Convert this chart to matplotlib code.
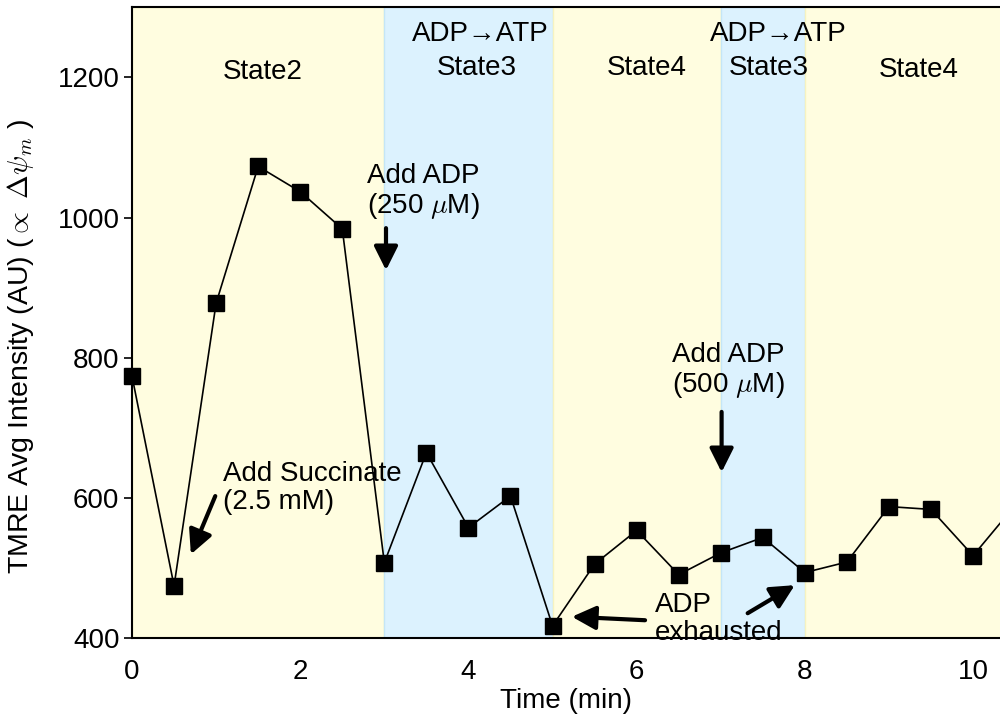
import matplotlib
matplotlib.use('Agg')
import matplotlib.pyplot as plt

plt.rcParams['font.family'] = ['Liberation Sans', 'DejaVu Sans']
plt.rcParams['mathtext.fontset'] = 'cm'

# data
time_min = [0, 0.5, 1, 1.5, 2, 2.5, 3, 3.5, 4, 4.5, 5, 5.5, 6, 6.5, 7, 7.5,
            8, 8.5, 9, 9.5, 10, 10.5]
tmre = [774, 475, 878, 1073, 1037, 984, 508, 665, 558, 603, 418, 506, 554,
        491, 522, 544, 494, 509, 588, 584, 518, 590]

# phases: (start, end, colour kind)
phase_start = [0, 3, 5, 7, 8]
phase_end = [3, 5, 7, 8, 11]
phase_kind = ['rest', 'active', 'rest', 'active', 'rest']

yellow = '#fffde0'
blue = '#dcf2fe'

fig = plt.figure(figsize=(10, 7.19), dpi=100)
ax = fig.add_axes([0.132, 0.112, 0.868, 0.878])

for s, e, k in zip(phase_start, phase_end, phase_kind):
    if k == 'rest':
        ax.axvspan(s, e, facecolor=yellow, edgecolor='#f7f3c0', lw=1, zorder=0)
    else:
        ax.axvspan(s, e, facecolor=blue, edgecolor='#c4e6f7', lw=1, zorder=0)

ax.plot(time_min, tmre, color='black', lw=1.2, marker='s', markersize=11.5,
        markeredgecolor='black', zorder=3, clip_on=False)

ax.set_xlim(0, 10.32)
ax.set_ylim(400, 1300)
ax.set_xticks([0, 2, 4, 6, 8, 10])
ax.set_yticks([400, 600, 800, 1000, 1200])
ax.tick_params(axis='x', length=0, labelsize=20, pad=15)
ax.tick_params(axis='y', length=6, labelsize=20, width=1.2, pad=3)
ax.spines['right'].set_visible(False)
for sp in ['left', 'bottom', 'top']:
    ax.spines[sp].set_linewidth(1.5)

ax.set_xlabel('Time (min)', fontsize=20, labelpad=2)
ax.set_ylabel(r'TMRE Avg Intensity (AU) ($\propto$ $\Delta\psi_m$ )', fontsize=20.5)
ax.yaxis.set_label_coords(-0.111, 0.462)

fs = 20
ls = 1.1
# phase labels
ax.text(1.55, 1207, 'State2', ha='center', va='center', fontsize=fs)
ax.text(4.14, 1262, 'ADP\u2192ATP', ha='center', va='center', fontsize=fs)
ax.text(4.10, 1214, 'State3', ha='center', va='center', fontsize=fs)
ax.text(6.12, 1214, 'State4', ha='center', va='center', fontsize=fs)
ax.text(7.68, 1262, 'ADP\u2192ATP', ha='center', va='center', fontsize=fs)
ax.text(7.57, 1214, 'State3', ha='center', va='center', fontsize=fs)
ax.text(9.36, 1210, 'State4', ha='center', va='center', fontsize=fs)

arrow = dict(arrowstyle='-|>', lw=3, mutation_scale=36, color='black',
             shrinkA=0, shrinkB=0)

ax.text(1.08, 614, 'Add Succinate\n(2.5 mM)', ha='left', va='center',
        fontsize=fs, linespacing=ls)
ax.annotate('', xy=(0.70, 520), xytext=(0.99, 603), arrowprops=arrow)

ax.text(2.79, 1037, 'Add ADP\n(250 $\\mu$M)', ha='left', va='center',
        fontsize=fs, linespacing=ls)
ax.annotate('', xy=(3.02, 925), xytext=(3.02, 985), arrowprops=arrow)

ax.text(6.42, 781, 'Add ADP\n(500 $\\mu$M)', ha='left', va='center',
        fontsize=fs, linespacing=ls)
ax.annotate('', xy=(7.01, 637), xytext=(7.01, 723), arrowprops=arrow)

ax.text(6.22, 428, 'ADP\nexhausted', ha='left', va='center', fontsize=fs,
        linespacing=ls, zorder=1, clip_on=False)
ax.annotate('', xy=(5.23, 431), xytext=(6.10, 426), arrowprops=arrow)
ax.annotate('', xy=(7.88, 476), xytext=(7.32, 436), arrowprops=arrow)

fig.savefig('out.png', dpi=100)
